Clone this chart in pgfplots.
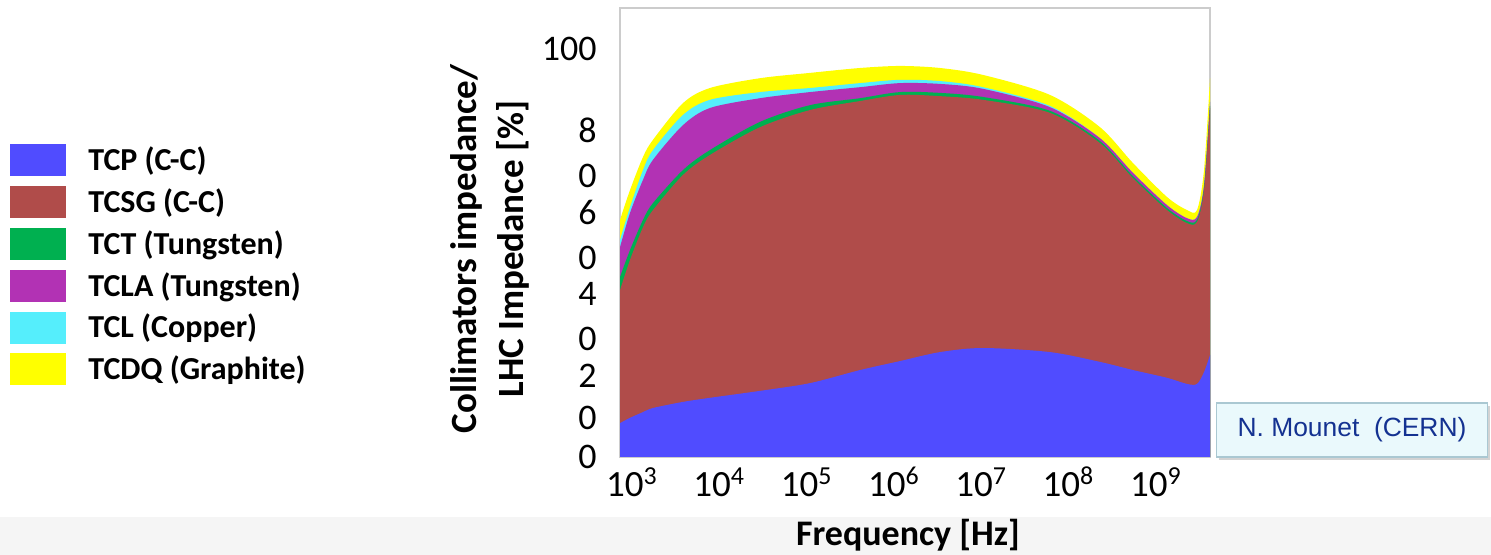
\documentclass[border=0pt]{standalone}
\usepackage{pgfplots}
\usepackage{pgfplotstable}
\pgfplotsset{compat=1.18}
\usepackage{fontspec}
\setmainfont{Carlito}
\newfontfamily\arialfont{Liberation Sans}
\usetikzlibrary{shadows}

\definecolor{cTCP}{RGB}{80,76,255}
\definecolor{cTCSG}{RGB}{176,76,74}
\definecolor{cTCT}{RGB}{0,176,80}
\definecolor{cTCLA}{RGB}{178,50,180}
\definecolor{cTCL}{RGB}{85,238,252}
\definecolor{cTCDQ}{RGB}{255,255,0}
\definecolor{boxfill}{RGB}{234,249,252}
\definecolor{boxline}{RGB}{170,200,210}
\definecolor{boxtext}{RGB}{20,50,145}

% cumulative share of the LHC impedance [%], top edge of each layer
\pgfplotstableread{
f        tcp   tcsg  tct   tcla  tcl   tcdq
729      8.3   40.9  44.1  51.4  53.2  58.1
949      9.6   48.3  50.7  59.8  61.2  65.4
1337     11.0  56.3  58.1  67.9  70.3  73.5
1740     12.0  60.5  62.2  72.8  75.2  77.7
3839     13.5  69.1  70.3  81.3  83.8  86.7
7824     14.5  74.0  75.2  85.5  87.5  90.4
29270    16.2  80.8  82.1  87.9  89.4  92.8
1.094e5  18.1  85.0  86.2  89.4  90.4  94.1
4.09e5   21.3  87.2  87.9  90.6  91.6  95.3
1.175e6  23.5  88.7  89.4  91.6  92.4  95.8
3.375e6  25.7  88.4  89.2  91.4  92.1  95.3
1.048e7  26.7  87.5  88.2  90.2  90.6  93.6
6.14e7   25.7  84.3  84.8  85.7  86.0  88.7
2.295e8  23.3  76.9  77.4  78.1  78.1  80.8
5.48e8   21.3  68.3  68.8  69.6  69.6  72.0
1.344e9  19.4  60.5  61.0  61.7  61.7  63.7
2.278e9  17.9  57.3  57.8  58.5  58.5  60.5
2.964e9  17.9  57.6  58.1  58.8  58.8  60.5
3.566e9  20.8  65.4  65.9  66.6  66.6  70.3
4.177e9  25.0  85.5  86.0  87.0  87.0  92.8
}\impdata

\begin{document}
\begin{tikzpicture}
\useasboundingbox (0,0) rectangle (745.5pt,277.5pt);
\fill[gray!8] (0,0) rectangle (745.5pt,19pt);
\begin{axis}[
    at={(310pt,49pt)}, anchor=south west,
    scale only axis, width=295pt, height=224.5pt,
    xmode=log, xmin=729, xmax=4.177e9,
    ymin=0, ymax=110,
    axis line style={gray!40, line width=0.6pt},
    major tick length=0pt, minor tick length=0pt,
    xtick={1e3,1e4,1e5,1e6,1e7,1e8,1e9},
    xticklabels={10\textsuperscript{3},10\textsuperscript{4},10\textsuperscript{5},10\textsuperscript{6},10\textsuperscript{7},10\textsuperscript{8},10\textsuperscript{9}},
    x tick label style={anchor=base, yshift=-20pt, font=\fontsize{18.5}{21}\selectfont},
    ytick={0,20,40,60,80,100},
    yticklabels={0,{2\smash{\llap{\raisebox{-21pt}{0}}}},{4\smash{\llap{\raisebox{-22.5pt}{0}}}},{6\smash{\llap{\raisebox{-22.5pt}{0}}}},{8\smash{\llap{\raisebox{-22.5pt}{0}}}},100},
    y tick label style={anchor=east, inner sep=0pt, xshift=-11.5pt, font=\fontsize{18}{21}\selectfont},
    xlabel={Frequency [Hz]},
    xlabel style={at={(rel axis cs:0.488,-0.196)}, anchor=base, font=\bfseries\fontsize{18}{21}\selectfont},
    ylabel={Collimators impedance/\\LHC Impedance [\%]},
    ylabel style={at={(rel axis cs:-0.22,0.463)}, anchor=center, align=center, font=\bfseries\fontsize{18.5}{23.5}\selectfont},
    legend style={at={(rel axis cs:-1.0339,0.6971)}, anchor=north west, draw=none, fill=none,
      inner sep=0pt, row sep=4.9pt, column sep=11pt, font=\bfseries\fontsize{16}{19}\selectfont,
      nodes={inner sep=0pt}},
    legend cell align=left,
    reverse legend,
    legend image code/.code={\fill[#1] (0pt,-8pt) rectangle (28pt,8pt);},
  ]
  \addplot[fill=cTCDQ, draw=none, smooth, tension=0.5] table[x=f, y=tcdq] {\impdata} \closedcycle;
  \addlegendentry{TCDQ (Graphite)}
  \addplot[fill=cTCL, draw=none, smooth, tension=0.5] table[x=f, y=tcl] {\impdata} \closedcycle;
  \addlegendentry{TCL (Copper)}
  \addplot[fill=cTCLA, draw=none, smooth, tension=0.5] table[x=f, y=tcla] {\impdata} \closedcycle;
  \addlegendentry{TCLA (Tungsten)}
  \addplot[fill=cTCT, draw=none, smooth, tension=0.5] table[x=f, y=tct] {\impdata} \closedcycle;
  \addlegendentry{TCT (Tungsten)}
  \addplot[fill=cTCSG, draw=none, smooth, tension=0.5] table[x=f, y=tcsg] {\impdata} \closedcycle;
  \addlegendentry{TCSG (C-C)}
  \addplot[fill=cTCP, draw=none, smooth, tension=0.5] table[x=f, y=tcp] {\impdata} \closedcycle;
  \addlegendentry{TCP (C-C)}
\end{axis}
\begin{scope}[x=0.5pt, y=-0.5pt, shift={(0pt,277.5pt)}]
  \node[fill=boxfill, draw=boxline, line width=0.6pt, minimum width=135.5pt, minimum height=27pt,
        drop shadow={opacity=0.35, shadow xshift=1pt, shadow yshift=-1.5pt},
        text=boxtext, font=\arialfont\fontsize{13.2}{16}\selectfont]
    at (1352,430) {N. Mounet\ \ (CERN)};
\end{scope}
\end{tikzpicture}
\end{document}
